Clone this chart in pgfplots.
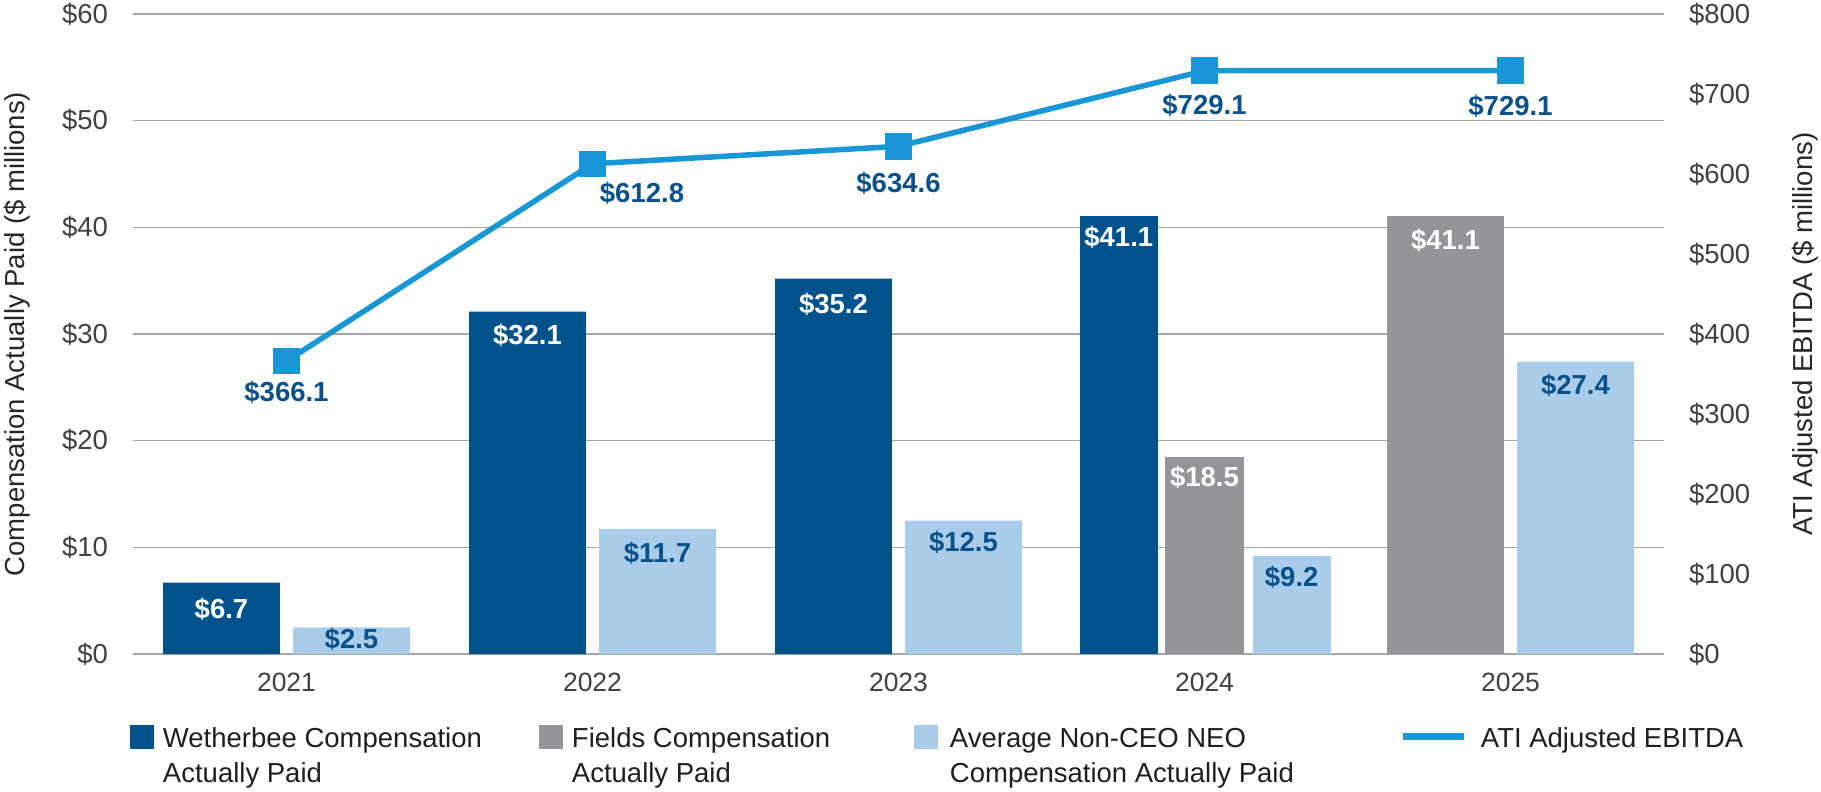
\documentclass[border=0pt]{standalone}
\usepackage{fontspec}
\setmainfont{Liberation Sans}
\usepackage{pgfplots}
\usepackage{pgfplotstable}
\pgfplotsset{compat=1.18}

\definecolor{wblue}{HTML}{00528A}
\definecolor{fgray}{HTML}{939598}
\definecolor{lblue}{HTML}{A9CCEA}
\definecolor{lineblue}{HTML}{1896D5}
\definecolor{labblue}{HTML}{0A5189}
\definecolor{gridgray}{HTML}{A4A6A9}

% bars: x position, value, label offset (pt)
\pgfplotstableread{
x y dy
-0.2124 6.7 -10.8
0.7876 32.1 -9.6
1.7876 35.2 -10.4
}\wmain
\pgfplotstableread{
x y dy
2.72 41.1 -8.8
}\wlate
\pgfplotstableread{
x y dy
3.7876 41.1 -9.8
}\fmain
\pgfplotstableread{
x y dy
3.0 18.5 -8.2
}\flate
\pgfplotstableread{
x y dy
0.2124 2.5 -4.8
1.2124 11.7 -9.6
2.2124 12.5 -8.8
4.2124 27.4 -9.6
}\amain
\pgfplotstableread{
x y dy
3.285 9.2 -8.4
}\alate
% line: x, value, label offsets (pt)
\pgfplotstableread{
x y dx dy
0 366.1 0 -12.4
1 612.8 19.8 -12
2 634.6 0 -14.8
3 729.1 0 -14
4 729.1 0 -14.4
}\ebitda

\begin{document}
\begin{tikzpicture}
\pgfplotsset{
  base/.style={
    width=612pt, height=256pt, scale only axis,
    xmin=-0.5, xmax=4.5,
    axis line style={draw=none},
    major tick length=0pt,
    tick style={draw=none},
    /pgf/number format/assume math mode=true,
    tick label style={font=\fontsize{11}{13}\selectfont, text=black!75},
  },
  bars/.style={ybar, bar shift=0pt, draw=none,
    nodes near coords={\$\pgfmathprintnumber[fixed,fixed zerofill,precision=1]{\pgfplotspointmeta}},
    visualization depends on={\thisrow{dy} \as \dy},
    every node near coord/.append style={anchor=center, yshift=\dy pt,
      font=\bfseries\fontsize{11}{13}\selectfont}},
  sqW/.style={legend image code/.code={\fill[wblue] (0pt,-0.4pt) rectangle (9.6pt,9.2pt); \path (13.2pt,0pt);}},
  sqF/.style={legend image code/.code={\fill[fgray] (0pt,-0.4pt) rectangle (9.6pt,9.2pt); \path (13.2pt,0pt);}},
  sqA/.style={legend image code/.code={\fill[lblue] (0pt,-0.4pt) rectangle (9.6pt,9.2pt); \path (14.4pt,0pt);}},
}

\begin{axis}[base,
  ymin=0, ymax=60, ytick={0,10,...,60},
  yticklabel={\$\pgfmathprintnumber{\tick}},
  yticklabel style={anchor=east, inner sep=0pt, xshift=-10pt},
  xtick={0,1,2,3,4}, xticklabels={2021,2022,2023,2024,2025},
  xticklabel style={anchor=north, inner sep=0pt, yshift=-7.5pt, font=\fontsize{10.6}{12}\selectfont},
  ymajorgrids, grid style={line width=0.55pt, color=gridgray},
  ylabel={Compensation Actually Paid (\$ millions)},
  every axis y label/.style={at={(axis description cs:-0.0758,0.5)}, rotate=90, anchor=center,
    font=\fontsize{11}{13}\selectfont, text=black!85},
  legend columns=4,
  legend style={at={(axis description cs:-0.0023,-0.1109)}, anchor=north west,
    draw=none, fill=none, inner sep=0pt, outer sep=0pt, /tikz/column sep=0pt,
    font=\fontsize{11}{14}\selectfont, text=black!88,
    cells={anchor=base west, inner sep=0pt},
    nodes={inner sep=0pt, outer sep=0pt, text depth=0pt}},
]
\coordinate (bl) at (rel axis cs:0,0);
\coordinate (tr) at (rel axis cs:1,1);

\addplot[bars, bar width=0.382, fill=wblue, text=white, sqW] table[x=x,y=y] {\wmain};
\addlegendentry{\parbox[t]{150.4pt}{\raggedright Wetherbee Compensation\\Actually Paid}}
\addplot[bars, bar width=0.382, fill=fgray, text=white, sqF] table[x=x,y=y] {\fmain};
\addlegendentry{\parbox[t]{136.8pt}{\raggedright Fields Compensation\\Actually Paid}}
\addplot[bars, bar width=0.382, fill=lblue, text=labblue, sqA] table[x=x,y=y] {\amain};
\addlegendentry{\parbox[t]{180pt}{\raggedright Average Non-CEO NEO\\Compensation Actually Paid}}

\addplot[bars, bar width=0.255, fill=wblue, text=white, forget plot] table[x=x,y=y] {\wlate};
\addplot[bars, bar width=0.255, fill=fgray, text=white, forget plot] table[x=x,y=y] {\flate};
\addplot[bars, bar width=0.255, fill=lblue, text=labblue, forget plot] table[x=x,y=y] {\alate};

\addlegendimage{legend image code/.code={\draw[line width=2.8pt, lineblue] (0pt,4.4pt) -- (24.4pt,4.4pt); \path (30.8pt,0pt);}}
\addlegendentry{ATI Adjusted EBITDA}
\end{axis}

\begin{axis}[base,
  ymin=0, ymax=800, ytick={0,100,...,800},
  xtick=\empty,
  ytick pos=right, yticklabel pos=right,
  yticklabel={\$\pgfmathprintnumber{\tick}},
  yticklabel style={anchor=west, inner sep=0pt, xshift=10pt},
  ylabel={ATI Adjusted EBITDA (\$ millions)},
  every axis y label/.style={at={(axis description cs:1.0925,0.5)}, rotate=90, anchor=center,
    font=\fontsize{11}{13}\selectfont, text=black!85},
]
\addplot[lineblue, line width=2.2pt, mark=square*, mark size=4.2pt,
  mark options={solid, fill=lineblue, draw=none},
  nodes near coords={\$\pgfmathprintnumber[fixed,fixed zerofill,precision=1]{\pgfplotspointmeta}},
  visualization depends on={\thisrow{dx} \as \dx},
  visualization depends on={\thisrow{dy} \as \dy},
  every node near coord/.append style={anchor=center, xshift=\dx pt, yshift=\dy pt,
    font=\bfseries\fontsize{11}{13}\selectfont, text=labblue}]
  table[x=x,y=y] {\ebitda};
\end{axis}

\pgfresetboundingbox
\path ([shift={(-53.4pt,-54.8pt)}]bl) rectangle ([shift={(63pt,5.6pt)}]tr);
\end{tikzpicture}
\end{document}
